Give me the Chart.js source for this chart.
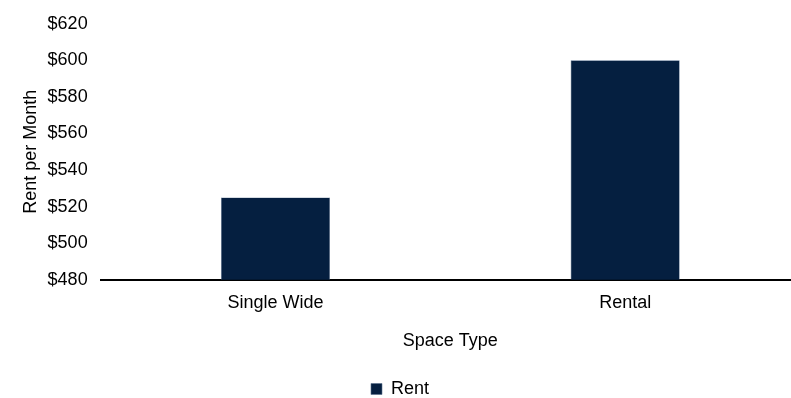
<!DOCTYPE html>
<html>
<head>
<meta charset="utf-8">
<script src="https://cdn.jsdelivr.net/npm/chart.js@4/dist/chart.umd.min.js"></script>
<style>
  html, body { margin: 0; padding: 0; background: #fff; overflow: hidden; }
  /* plot runs slightly past the right edge of the window */
  #wrap { width: 800px; height: 398px; }
</style>
</head>
<body>
<div id="wrap"><canvas id="rentChart"></canvas></div>
<script>
// Monthly rent by space type
const categories = ['Single Wide', 'Rental'];
const rentValues = [525, 600];
const seriesLabel = 'Rent';
const yMin = 480;
const yMax = 620;
const yStep = 20;

const navy = '#051f40';

Chart.defaults.font.family = '"Liberation Sans", Arial, sans-serif';
Chart.defaults.color = '#000';

new Chart(document.getElementById('rentChart'), {
    type: 'bar',
    data: {
        labels: categories,
        datasets: [{
            label: seriesLabel,
            data: rentValues,
            backgroundColor: navy,
            borderColor: '#5a6f8c',
            borderWidth: 0.6,
            categoryPercentage: 1,
            barPercentage: 0.312
        }]
    },
    options: {
        responsive: true,
        maintainAspectRatio: false,
        animation: false,
        layout: { padding: { top: -2, right: 0, left: 0, bottom: -10 } },
        plugins: {
            legend: {
                position: 'bottom',
                labels: {
                    boxWidth: 11,
                    boxHeight: 11,
                    padding: 0,
                    font: { size: 18 },
                    color: '#000'
                }
            },
            tooltip: { enabled: false }
        },
        scales: {
            x: {
                grid: { display: false, drawTicks: false },
                border: { display: true, color: '#000', width: 2 },
                ticks: { font: { size: 18 }, padding: 12 },
                title: {
                    display: true,
                    text: 'Space Type',
                    font: { size: 18 },
                    padding: { top: 5, bottom: 28 }
                }
            },
            y: {
                min: yMin,
                max: yMax,
                grid: { display: false, drawTicks: false },
                border: { display: false },
                ticks: {
                    stepSize: yStep,
                    font: { size: 18 },
                    padding: 13,
                    callback: v => '$' + v
                },
                title: {
                    display: true,
                    text: 'Rent per Month',
                    font: { size: 18 },
                    padding: { top: 20, bottom: -7 }
                }
            }
        }
    }
});
</script>
</body>
</html>
